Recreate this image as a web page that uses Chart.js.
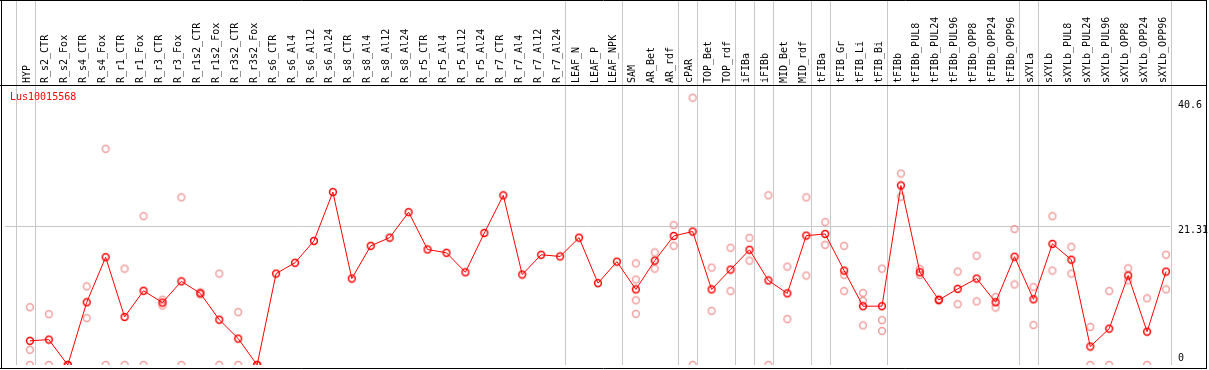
<!DOCTYPE html>
<html>
<head>
<meta charset="utf-8">
<script src="https://cdn.jsdelivr.net/npm/chart.js@4"></script>
<style>
  html, body { margin: 0; padding: 0; background: #fff; }
  #wrap { width: 1209px; height: 370px; position: relative; }
</style>
</head>
<body>
<div id="wrap"><canvas id="chart1"></canvas></div>
<script>
const geneName = 'Lus10015568'

const categories = ['HYP', 'R_s2_CTR', 'R_s2_Fox', 'R_s4_CTR', 'R_s4_Fox', 'R_r1_CTR', 'R_r1_Fox',
    'R_r3_CTR', 'R_r3_Fox', 'R_r1s2_CTR', 'R_r1s2_Fox', 'R_r3s2_CTR', 'R_r3s2_Fox', 'R_s6_CTR',
    'R_s6_Al4', 'R_s6_Al12', 'R_s6_Al24', 'R_s8_CTR', 'R_s8_Al4', 'R_s8_Al12', 'R_s8_Al24',
    'R_r5_CTR', 'R_r5_Al4', 'R_r5_Al12', 'R_r5_Al24', 'R_r7_CTR', 'R_r7_Al4', 'R_r7_Al12',
    'R_r7_Al24', 'LEAF_N', 'LEAF_P', 'LEAF_NPK', 'SAM', 'AR_Bet', 'AR_rdf', 'cPAR', 'TOP_Bet',
    'TOP_rdf', 'iFIBa', 'iFIBb', 'MID_Bet', 'MID_rdf', 'tFIBa', 'tFIB_Gr', 'tFIB_Li', 'tFIB_Bi',
    'tFIBb', 'tFIBb_PUL8', 'tFIBb_PUL24', 'tFIBb_PUL96', 'tFIBb_OPP8', 'tFIBb_OPP24', 'tFIBb_OPP96',
    'sXYLa', 'sXYLb', 'sXYLb_PUL8', 'sXYLb_PUL24', 'sXYLb_PUL96', 'sXYLb_OPP8', 'sXYLb_OPP24',
    'sXYLb_OPP96']

// mean expression per sample
const meanValues = [3.71, 3.9, 0, 9.63, 16.55, 7.38, 11.4, 9.58, 12.85, 11.0, 6.95, 4.06, 0,
    14.04, 15.7, 19.06, 26.55, 13.28, 18.3, 19.56, 23.47, 17.74, 17.23, 14.24, 20.28, 26.05,
    13.89, 16.93, 16.67, 19.56, 12.57, 15.87, 11.61, 16.02, 19.82, 20.5, 11.61, 14.65, 17.69,
    12.98, 11.0, 19.87, 20.12, 14.5, 9.03, 9.03, 27.57, 14.24, 9.99, 11.7, 13.28, 9.63, 16.63,
    10.09, 18.6, 16.17, 2.84, 5.58, 13.74, 5.12, 14.34]

// single replicates per sample (empty where none are shown)
const replicateValues = [
    [8.87, 2.34, 0], [7.81, 0], [0, 0], [12.07, 7.2], [33.2, 0], [14.8, 0], [22.86, 0],
    [10.03, 9.13], [25.75, 0], [11.15, 10.85], [14.04, 0], [8.12, 0], [0, 0],
    [], [], [], [], [], [], [], [], [], [], [], [], [], [], [], [], [], [], [],
    [15.61, 13.13, 9.94, 7.86], [17.28, 14.8], [21.49, 18.3], [41.05, 0], [14.96, 8.31],
    [18.0, 11.35], [19.52, 16.02], [26.05, 0], [15.11, 7.05], [25.75, 13.74], [21.95, 18.45],
    [18.3, 13.83, 11.35], [11.05, 9.83, 6.08], [14.8, 6.9, 5.23], [29.4, 25.84],
    [14.74, 13.83], [10.1, 9.9], [14.34, 9.33], [16.78, 9.78], [10.44, 8.82], [20.88, 12.37],
    [11.96, 6.14], [22.86, 14.5], [18.15, 14.04], [5.84, 0], [11.35, 0], [14.85, 12.98],
    [10.24, 0], [16.93, 11.61]]

// group separators sit just after these sample indexes
const groupEnds = [-1, 0, 28, 31, 34, 35, 37, 38, 39, 41, 42, 45, 52, 53, 60]

const yTicks = [0, 21.31, 40.6]

const monoFont = '"DejaVu Sans Mono", monospace'

function makeMarker(color) {
    const c = document.createElement('canvas')
    c.width = 10
    c.height = 10
    const g = c.getContext('2d')
    g.strokeStyle = color
    g.lineWidth = 1.5
    g.beginPath()
    g.arc(5, 5, 3.4, 0, Math.PI * 2)
    g.stroke()
    return c
}

const meanPoints = meanValues.map((v, i) => ({ x: i, y: v }))
let repPoints = []
replicateValues.forEach((list, i) => {
    list.forEach(v => repPoints.push({ x: i, y: v }))
})

const framePlugin = {
    id: 'frame',
    beforeDatasetsDraw(chart) {
        const ctx = chart.ctx
        const xs = chart.scales.x
        const area = chart.chartArea
        ctx.save()
        ctx.strokeStyle = '#c8c8c8'
        ctx.lineWidth = 1
        groupEnds.forEach(g => {
            const px = Math.round(xs.getPixelForValue(g + 0.25)) + 0.5
            ctx.beginPath()
            ctx.moveTo(px, 0)
            ctx.lineTo(px, area.bottom)
            ctx.stroke()
        })
        ctx.restore()
    },
    afterDraw(chart) {
        const ctx = chart.ctx
        const ys = chart.scales.y
        const area = chart.chartArea
        ctx.save()
        ctx.strokeStyle = '#000'
        ctx.lineWidth = 1
        ctx.beginPath()
        ctx.moveTo(0, 0.5); ctx.lineTo(1207, 0.5)
        ctx.moveTo(0, 85.5); ctx.lineTo(1207, 85.5)
        ctx.moveTo(0, 368.5); ctx.lineTo(1207, 368.5)
        ctx.moveTo(1.5, 0); ctx.lineTo(1.5, 369)
        ctx.moveTo(1206.5, 0); ctx.lineTo(1206.5, 369)
        ctx.stroke()

        ctx.font = '10px ' + monoFont
        ctx.fillStyle = '#ff0000'
        ctx.textBaseline = 'middle'
        ctx.textAlign = 'left'
        ctx.fillText(geneName, 10, 97.5)

        ctx.fillStyle = '#000'
        yTicks.forEach(v => {
            let py = ys.getPixelForValue(v) + 4.5
            if (py > area.bottom - 7) py = area.bottom - 7
            ctx.fillText(String(v), 1178, py)
        })
        ctx.restore()
    }
}

const ctx = document.querySelector('#chart1').getContext('2d')
const chart1 = new Chart(ctx, {
    type: 'line',
    data: {
        datasets: [{
            label: geneName,
            data: meanPoints,
            borderColor: '#ff0000',
            borderWidth: 1,
            pointStyle: makeMarker('#ff0000'),
            tension: 0,
            order: 1
        }, {
            label: 'replicates',
            data: repPoints,
            showLine: false,
            pointStyle: makeMarker('rgba(238,135,135,0.8)'),
            order: 2
        }]
    },
    options: {
        responsive: true,
        maintainAspectRatio: false,
        animation: false,
        events: [],
        layout: {
            padding: { left: 1, right: 39, top: 0, bottom: 1 }
        },
        plugins: {
            legend: { display: false },
            tooltip: { enabled: false }
        },
        scales: {
            x: {
                type: 'linear',
                position: 'top',
                min: -1.3158,
                max: 60.21,
                afterBuildTicks: scale => {
                    scale.ticks = categories.map((c, i) => ({ value: i }))
                },
                afterFit: scale => { scale.height = 85 },
                grid: { display: false, drawTicks: false },
                border: { display: false },
                ticks: {
                    autoSkip: false,
                    minRotation: 90,
                    maxRotation: 90,
                    padding: 2,
                    labelOffset: 9,
                    color: '#000',
                    font: { family: monoFont, size: 10 },
                    callback: value => categories[value]
                }
            },
            y: {
                position: 'right',
                min: 0,
                max: 43,
                afterBuildTicks: scale => {
                    scale.ticks = yTicks.map(v => ({ value: v }))
                },
                afterFit: scale => { scale.width = 0 },
                grid: {
                    drawTicks: false,
                    color: c => (c.tick && c.tick.value === 21.31) ? '#c8c8c8' : 'rgba(0,0,0,0)'
                },
                border: { display: false },
                ticks: { display: false }
            }
        }
    },
    plugins: [framePlugin]
})
</script>
</body>
</html>
